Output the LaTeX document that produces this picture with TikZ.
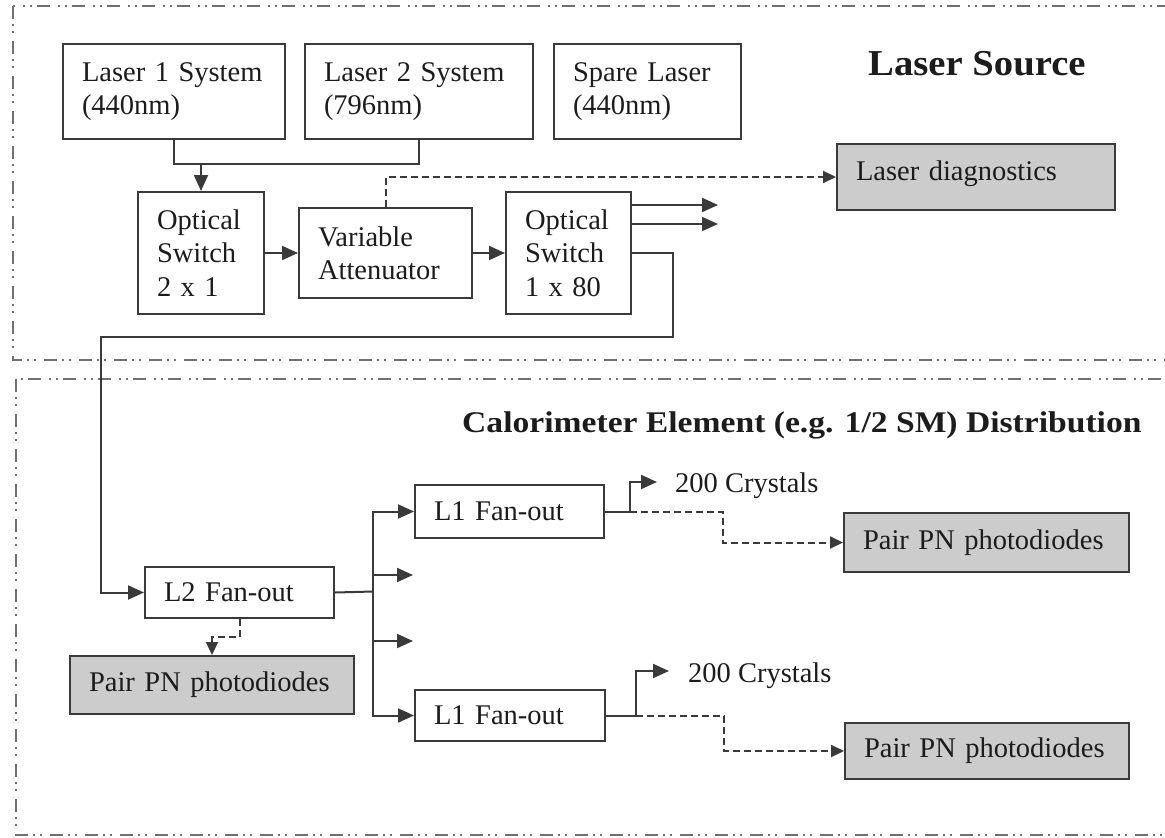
\documentclass[tikz,border=0pt]{standalone}
\usepackage{fontspec}
\setmainfont{Liberation Serif}
\usetikzlibrary{arrows.meta}

\definecolor{edge}{HTML}{3A3A3A}
\definecolor{panel}{HTML}{CCCCCC}
\definecolor{framec}{HTML}{707070}
\definecolor{ink}{HTML}{1C1C1C}

\tikzset{
  body/.style={font=\fontsize{28.5}{33.5}\selectfont, text=ink},
  blk/.style={body, draw=edge, line width=2pt, anchor=north west,
              inner xsep=19pt, inner ysep=0pt, align=left},
  greyblk/.style={blk, fill=panel},
  wire/.style={draw=edge, line width=2pt},
  arr/.style={wire, -{Triangle[length=16pt,width=14pt]}},
  dsh/.style={wire, dash pattern=on 7pt off 4pt},
  darr/.style={dsh, -{Triangle[length=13pt,width=12pt]}},
  framed/.style={draw=framec, line width=1.6pt,
                 dash pattern=on 13pt off 5pt on 2pt off 5pt on 2pt off 8pt},
  lbl/.style={body, anchor=base west, inner sep=0pt},
  title/.style={anchor=base west, inner sep=0pt, text=ink}
}

\begin{document}
\begin{tikzpicture}[x=1pt, y=-1pt]
\useasboundingbox (0,0) rectangle (1165,838);

% section frames (open to the right)
\draw[framed] (13,6) rectangle (1200,360);
\draw[framed] (16,379) rectangle (1200,835);

% section titles
\node[title, font=\fontsize{36.5}{40}\selectfont\bfseries] (srcTitle) at (868,75)
  {\scalebox{1.06}[1]{Laser Source}};
\node[title, font=\fontsize{30}{34}\selectfont\bfseries] (distTitle) at (462,432)
  {\scalebox{1.12}[1]{Calorimeter Element (e.g. 1/2 SM) Distribution}};

% laser source blocks
\node[blk, minimum width=222pt, minimum height=95pt, text width=184pt] (las1) at (62,43) {Laser 1 System\\(440nm)};
\node[blk, minimum width=228pt, minimum height=95pt, text width=190pt] (las2) at (304,43) {Laser 2 System\\(796nm)};
\node[blk, minimum width=187pt, minimum height=95pt, text width=149pt] (spare) at (553,43) {Spare Laser\\(440nm)};
\node[blk, minimum width=126pt, minimum height=122pt, text width=88pt] (sw2) at (137,191) {Optical\\Switch\\2 x 1};
\node[blk, minimum width=173pt, minimum height=90pt, text width=135pt] (att) at (298,207) {Variable\\Attenuator};
\node[blk, minimum width=125pt, minimum height=122pt, text width=87pt] (sw80) at (505,191) {Optical\\Switch\\1 x 80};
\node[greyblk, minimum width=278pt, minimum height=66pt, text width=240pt, text depth=12pt] (diag) at (836,143) {Laser diagnostics};

% distribution blocks
\node[blk, minimum width=189pt, minimum height=51pt, text width=151pt] (l2f) at (144,566) {L2 Fan-out};
\node[blk, minimum width=189pt, minimum height=53pt, text width=151pt] (l1a) at (414,484) {L1 Fan-out};
\node[blk, minimum width=190pt, minimum height=51pt, text width=152pt] (l1b) at (414,689) {L1 Fan-out};
\node[greyblk, minimum width=284pt, minimum height=58pt, text width=246pt] (pdL) at (69,655) {Pair PN photodiodes};
\node[greyblk, minimum width=285pt, minimum height=59pt, text width=247pt] (pdA) at (843,512) {Pair PN photodiodes};
\node[greyblk, minimum width=284pt, minimum height=56pt, text width=246pt] (pdB) at (844,722) {Pair PN photodiodes};

\node[lbl] (cryA) at (675,492) {200 Crystals};
\node[lbl] (cryB) at (688,682) {200 Crystals};

% helper points
\coordinate (bus) at (0,164);
\coordinate (out1) at (718,205);
\coordinate (out2) at (718,224);
\coordinate (tap) at (0,253);
\coordinate (riser) at (673,337);
\coordinate (drop) at (101,337);
\coordinate (hub) at (373,591.5);
\coordinate (stub1) at (413,575);
\coordinate (stub2) at (413,641);
\coordinate (tipA) at (657,482);
\coordinate (tipB) at (669,671);
\coordinate (bendA) at (723,526);
\coordinate (bendB) at (724,732);

% laser source wiring
\draw[wire] (las1.south) |- (bus -| las2.south) -- (las2.south);
\draw[arr] (bus -| sw2.north) -- (sw2.north);
\draw[arr] (sw2) -- (att);
\draw[arr] (att) -- (sw80);
\draw[darr] (att.north) |- (diag.west);
\draw[arr] (sw80.east |- out1) -- (out1);
\draw[arr] (sw80.east |- out2) -- (out2);
\draw[arr] (sw80.east |- tap) -| (riser) -- (drop) |- (l2f.west);

% distribution wiring
\draw[wire] (l2f.east) -- (hub);
\draw[arr] (hub) |- (l1a.west);
\draw[arr] (hub) |- (l1b.west);
\draw[arr] (hub |- stub1) -- (stub1);
\draw[arr] (hub |- stub2) -- (stub2);
\draw[darr] (l2f.south) -- ++(0,18) -| (pdL.north);

\draw[arr] (l1a.east) -- ++(25,0) |- (tipA);
\draw[darr] (l1a.east) ++(25,0) -| (bendA) |- (pdA.west);
\draw[arr] (l1b.east) -- ++(30,0) |- (tipB);
\draw[darr] (l1b.east) ++(30,0) -| (bendB) |- (pdB.west);
\end{tikzpicture}
\end{document}
